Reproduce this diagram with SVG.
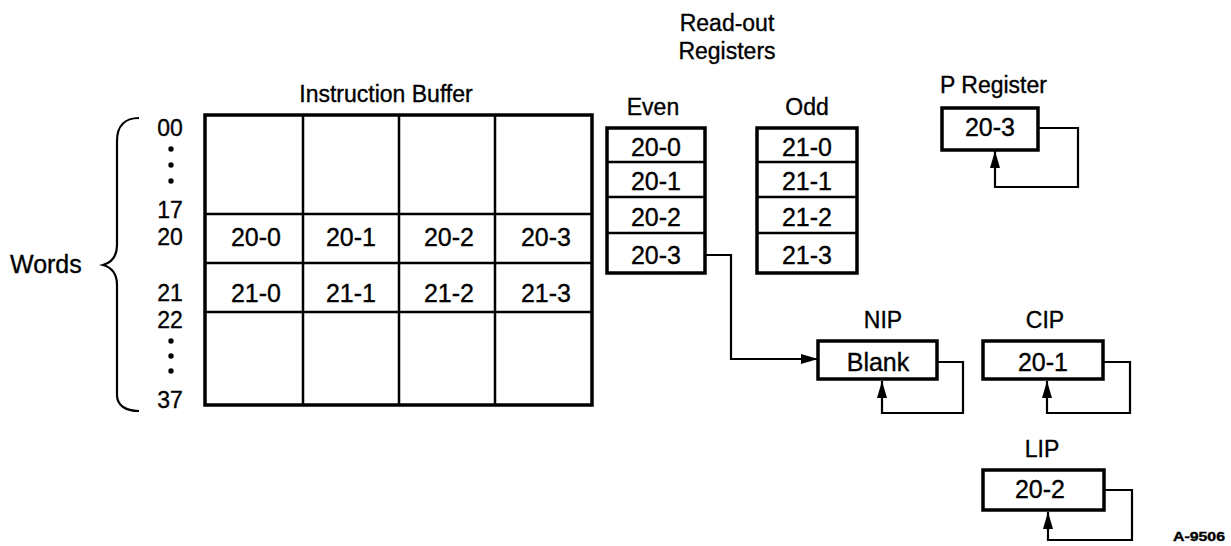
<svg xmlns="http://www.w3.org/2000/svg" width="1231" height="546" viewBox="0 0 1231 546">
  <defs>
    <style>
      text { font-family: "Liberation Sans", Arial, sans-serif; fill: #000; stroke: #000; stroke-width: 0.35; }
      .lbl { font-size: 23px; }
      .num { font-size: 25px; text-anchor: middle; }
      .row { font-size: 23px; text-anchor: middle; }
      .mid { text-anchor: middle; }
      .box { fill: #fff; stroke: #000; stroke-width: 3.5; }
      .div { fill: none; stroke: #000; stroke-width: 2.5; }
      .wire { fill: none; stroke: #000; stroke-width: 2.2; }
    </style>
    <marker id="arrow" markerWidth="18" markerHeight="12" refX="17" refY="6" orient="auto" markerUnits="userSpaceOnUse">
      <path d="M0,1 L17,6 L0,11 Z" fill="#000"/>
    </marker>
  </defs>
  <rect width="1231" height="546" fill="#fff"/>

  <!-- word index and brace -->
  <g id="words">
    <text x="10" y="273" font-size="25">Words</text>
    <path class="wire" stroke-width="2.5" d="M139 118 C125 118 117 126 117 141 L117 245 C117 258 110 263 103 265 C110 267 117 272 117 285 L117 395 C117 405 125 411 139 411"/>
    <text class="row" x="170" y="136">00</text>
    <circle cx="171" cy="149" r="2.7"/>
    <circle cx="171" cy="165" r="2.7"/>
    <circle cx="171" cy="181" r="2.7"/>
    <text class="row" x="170" y="218">17</text>
    <text class="row" x="170" y="245">20</text>
    <text class="row" x="170" y="301">21</text>
    <text class="row" x="170" y="328">22</text>
    <circle cx="171" cy="341" r="2.7"/>
    <circle cx="171" cy="356" r="2.7"/>
    <circle cx="171" cy="371" r="2.7"/>
    <text class="row" x="170" y="408">37</text>
  </g>

  <!-- instruction buffer grid -->
  <g id="instruction-buffer">
    <text class="lbl mid" x="386" y="102">Instruction Buffer</text>
    <rect class="box" x="205" y="115" width="387" height="290"/>
    <path class="div" d="M303 115 V405 M399 115 V405 M495 115 V405 M205 214 H592 M205 263 H592 M205 312 H592"/>
    <text class="num" x="256" y="246">20-0</text>
    <text class="num" x="351" y="246">20-1</text>
    <text class="num" x="449" y="246">20-2</text>
    <text class="num" x="546" y="246">20-3</text>
    <text class="num" x="256" y="302">21-0</text>
    <text class="num" x="351" y="302">21-1</text>
    <text class="num" x="449" y="302">21-2</text>
    <text class="num" x="546" y="302">21-3</text>
  </g>

  <!-- read-out registers -->
  <g id="readout-title">
    <text class="lbl mid" x="727" y="31">Read-out</text>
    <text class="lbl mid" x="727" y="59">Registers</text>
  </g>
  <g id="even-register">
    <text class="lbl mid" x="653" y="115">Even</text>
    <rect class="box" x="607" y="128" width="98" height="145"/>
    <path class="div" d="M607 162 H705 M607 197 H705 M607 233 H705"/>
    <text class="num" x="656" y="156">20-0</text>
    <text class="num" x="656" y="190">20-1</text>
    <text class="num" x="656" y="226">20-2</text>
    <text class="num" x="656" y="264">20-3</text>
  </g>
  <g id="odd-register">
    <text class="lbl mid" x="807" y="115">Odd</text>
    <rect class="box" x="757" y="128" width="100" height="145"/>
    <path class="div" d="M757 162 H857 M757 197 H857 M757 233 H857"/>
    <text class="num" x="807" y="156">21-0</text>
    <text class="num" x="807" y="190">21-1</text>
    <text class="num" x="807" y="226">21-2</text>
    <text class="num" x="807" y="264">21-3</text>
  </g>

  <!-- pointer registers -->
  <g id="p-register">
    <text class="lbl" x="940" y="93">P Register</text>
    <rect class="box" x="942" y="108" width="96" height="42"/>
    <text class="num" x="990" y="136">20-3</text>
  </g>
  <g id="nip">
    <text class="lbl mid" x="883" y="328">NIP</text>
    <rect class="box" x="818" y="341" width="119" height="38"/>
    <text class="num" x="878" y="371">Blank</text>
  </g>
  <g id="cip">
    <text class="lbl mid" x="1045" y="328">CIP</text>
    <rect class="box" x="983" y="341" width="120" height="38"/>
    <text class="num" x="1043" y="371">20-1</text>
  </g>
  <g id="lip">
    <text class="lbl mid" x="1042" y="457">LIP</text>
    <rect class="box" x="983" y="470" width="121" height="40"/>
    <text class="num" x="1040" y="498">20-2</text>
  </g>

  <!-- connectors -->
  <g id="connectors">
    <path class="wire" d="M705 255 H731 V359 H818" marker-end="url(#arrow)"/>
    <path class="wire" d="M1038 128 H1078 V187 H995 V151" marker-end="url(#arrow)"/>
    <path class="wire" d="M937 362 H963 V413 H882 V381" marker-end="url(#arrow)"/>
    <path class="wire" d="M1103 362 H1130 V413 H1047 V381" marker-end="url(#arrow)"/>
    <path class="wire" d="M1104 490 H1132 V540 H1048 V512" marker-end="url(#arrow)"/>
  </g>

  <text x="1173" y="541" font-size="12" font-weight="bold" textLength="52" lengthAdjust="spacingAndGlyphs">A-9506</text>
</svg>
